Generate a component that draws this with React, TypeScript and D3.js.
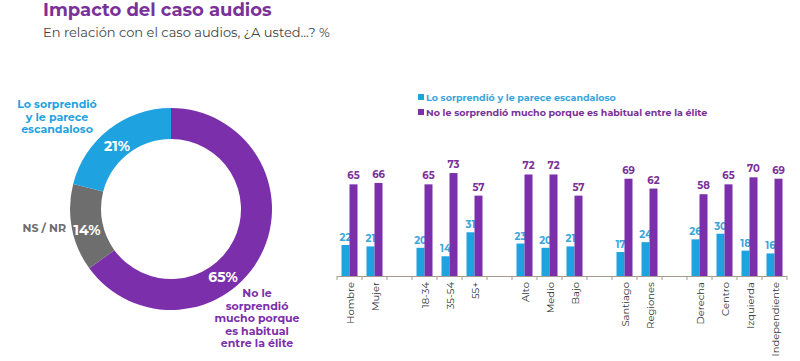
import React, { useRef, useEffect } from 'react';
import * as d3 from 'd3';

// donut data
const donutLabels = ['No le sorprendió mucho porque es habitual entre la élite', 'NS / NR', 'Lo sorprendió y le parece escandaloso'];
const donutValues = [65, 14, 21];

// bar data (empty strings are gaps between groups)
const categories = ['Hombre', 'Mujer', '', '18-34', '35-54', '55+', '', 'Alto', 'Medio', 'Bajo', '', 'Santiago', 'Regiones', '', 'Derecha', 'Centro', 'Izquierda', 'Independiente'];
const seriesNames = ['Lo sorprendió y le parece escandaloso', 'No le sorprendió mucho porque es habitual entre la élite'];
const sorprendio = [22, 21, null, 20, 14, 31, null, 23, 20, 21, null, 17, 24, null, 26, 30, 18, 16];
const habitual = [65, 66, null, 65, 73, 57, null, 72, 72, 57, null, 69, 62, null, 58, 65, 70, 69];

const BLUE = '#1fa3e0';
const PURPLE = '#7b2fab';
const GRAY = '#6e6e6e';
const FONT = 'Montserrat, "Open Sans", Lato, sans-serif';

function App() {
  const svgRef = useRef<SVGSVGElement | null>(null);

  useEffect(() => {
    const svg = d3.select(svgRef.current);
    svg.selectAll('*').remove();
    svg.style('font-family', FONT);

    // Title
    svg.append('text')
      .attr('x', 43).attr('y', 16)
      .style('font-size', '18px').style('font-weight', 'bold')
      .attr('fill', '#7a3199')
      .text('Impacto del caso audios');
    svg.append('text')
      .attr('x', 43).attr('y', 37)
      .style('font-size', '13px')
      .attr('fill', '#444')
      .text('En relación con el caso audios, ¿A usted...? %');

    // Donut
    const cx = 171, cy = 209;
    const pie = d3.pie<number>().sort(null).value(d => d);
    const arcs = pie(donutValues);
    const arc = d3.arc<d3.PieArcDatum<number>>().innerRadius(70).outerRadius(101);
    const labelArc = d3.arc<d3.PieArcDatum<number>>().innerRadius(72).outerRadius(100);
    const donutColors = [PURPLE, GRAY, BLUE];
    const g = svg.append('g').attr('transform', `translate(${cx},${cy})`);
    g.selectAll('path').data(arcs).enter().append('path')
      .attr('d', arc)
      .attr('fill', (d, i) => donutColors[i]);

    // percent labels inside slices
    const pctPos = [[52, 69], [-84, 22], [-54, -62]];
    arcs.forEach((a, i) => {
      g.append('text')
        .attr('x', pctPos[i][0]).attr('y', pctPos[i][1])
        .attr('text-anchor', 'middle')
        .attr('dominant-baseline', 'middle')
        .style('font-size', '14px').style('font-weight', 'bold')
        .attr('fill', '#fff')
        .text(donutValues[i] + '%');
    });
    void labelArc;

    // outside labels
    const blueLines = ['Lo sorprendió', 'y le parece', 'escandaloso'];
    blueLines.forEach((t, i) => {
      svg.append('text')
        .attr('x', 57).attr('y', 108 + i * 12.5)
        .attr('text-anchor', 'middle')
        .style('font-size', '11px').style('font-weight', 'bold')
        .attr('fill', BLUE)
        .text(t);
    });
    svg.append('text')
      .attr('x', 66).attr('y', 232)
      .attr('text-anchor', 'end')
      .style('font-size', '11px').style('font-weight', 'bold')
      .attr('fill', GRAY)
      .text(donutLabels[1]);
    const purpleLines = ['No le', 'sorprendió', 'mucho porque', 'es habitual', 'entre la élite'];
    purpleLines.forEach((t, i) => {
      svg.append('text')
        .attr('x', 257).attr('y', 297 + i * 12.5)
        .attr('text-anchor', 'middle')
        .style('font-size', '11px').style('font-weight', 'bold')
        .attr('fill', PURPLE)
        .text(t);
    });

    // Bar chart
    const left = 337, right = 787, base = 276;
    const x = d3.scaleBand<number>()
      .domain(categories.map((_, i) => i))
      .range([left, right])
      .padding(0);
    const y = d3.scaleLinear().domain([0, 100]).range([base, 135]);
    const barW = 8;

    const bars = svg.append('g');
    categories.forEach((c, i) => {
      const mid = (x(i) as number) + x.bandwidth() / 2;
      const b = sorprendio[i];
      const p = habitual[i];
      if (b != null) {
        bars.append('rect')
          .attr('x', mid - barW).attr('y', y(b))
          .attr('width', barW).attr('height', base - y(b))
          .attr('fill', BLUE);
        bars.append('text')
          .attr('x', mid - barW / 2).attr('y', y(b) - 4)
          .attr('text-anchor', 'middle')
          .style('font-size', '10px').style('font-weight', 'bold')
          .attr('fill', '#3aa6dc')
          .text(b);
      }
      if (p != null) {
        bars.append('rect')
          .attr('x', mid).attr('y', y(p))
          .attr('width', barW).attr('height', base - y(p))
          .attr('fill', PURPLE);
        bars.append('text')
          .attr('x', mid + barW / 2).attr('y', y(p) - 5)
          .attr('text-anchor', 'middle')
          .style('font-size', '10px').style('font-weight', 'bold')
          .attr('fill', '#7a3199')
          .text(p);
      }
      if (c) {
        bars.append('text')
          .attr('transform', `translate(${mid + 4},${base + 6}) rotate(-90)`)
          .attr('text-anchor', 'end')
          .style('font-size', '10px')
          .attr('fill', '#333')
          .text(c);
      }
    });

    // axis line and ticks
    const axis = svg.append('g');
    axis.append('line')
      .attr('x1', left).attr('x2', right)
      .attr('y1', base + 0.5).attr('y2', base + 0.5)
      .attr('stroke', '#a59a8c').attr('stroke-width', 1);
    categories.concat(['']).forEach((_, i) => {
      const tx = i < categories.length ? (x(i) as number) : right;
      axis.append('line')
        .attr('x1', tx).attr('x2', tx)
        .attr('y1', base).attr('y2', base + 4)
        .attr('stroke', '#a59a8c');
    });

    // legend
    const legendColors = [BLUE, PURPLE];
    const legendText = ['#3aa6dc', '#7a3199'];
    seriesNames.forEach((s, i) => {
      svg.append('rect')
        .attr('x', 418).attr('y', 94 + i * 15)
        .attr('width', 6).attr('height', 6)
        .attr('fill', legendColors[i]);
      svg.append('text')
        .attr('x', 426).attr('y', 100.5 + i * 15)
        .style('font-size', '9.5px').style('font-weight', 'bold')
        .attr('fill', legendText[i])
        .text(s);
    });
  }, []);

  return (
    <svg ref={svgRef} width={800} height={361}
      style={{ position: 'absolute', left: 0, top: 0, background: '#fff' }} />
  );
}

export default App;
